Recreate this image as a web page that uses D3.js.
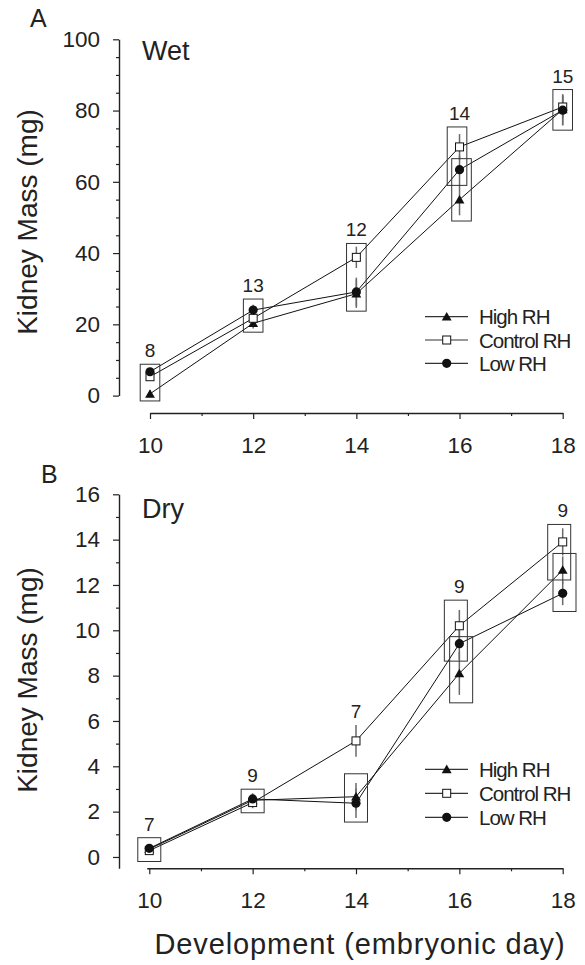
<!DOCTYPE html>
<html>
<head>
<meta charset="utf-8">
<script src="https://cdn.jsdelivr.net/npm/d3@7"></script>
<style>
  body { margin: 0; background: #fff; }
  svg { display: block; font-family: "Liberation Sans", Arial, sans-serif; }
</style>
</head>
<body>
<div id="main"></div>
<script>
// data
const days = [10, 12, 14, 16, 18];
const seriesNames = ["High RH", "Control RH", "Low RH"];

const wetHigh = [0.5, 20.3, 28.6, 55.0, 80.3];
const wetControl = [5.3, 21.7, 38.8, 69.8, 81.0];
const wetLow = [6.7, 24.0, 29.1, 63.4, 80.1];
const wetHighErr = [1.0, 1.5, 4.0, 4.4, 4.3];
const wetControlErr = [1.0, 1.5, 3.0, 3.6, 3.0];
const wetLowErr = [1.0, 1.5, 4.0, 4.0, 4.3];
const wetN = [8, 13, 12, 14, 15];
const wetBoxes = [
  { day: 10, lo: -1.5, hi: 8.8, lane: 0 },
  { day: 12, lo: 17.8, hi: 27.1, lane: 0 },
  { day: 14, lo: 23.7, hi: 42.7, lane: 0 },
  { day: 16, lo: 59.0, hi: 75.4, lane: -1 },
  { day: 16, lo: 49.0, hi: 66.5, lane: 1 },
  { day: 18, lo: 74.5, hi: 85.9, lane: 0 }
];
const wetTicks = [0, 20, 40, 60, 80, 100];

const dryHigh = [0.35, 2.5, 2.66, 8.1, 12.66];
const dryControl = [0.28, 2.4, 5.12, 10.2, 13.9];
const dryLow = [0.38, 2.56, 2.37, 9.41, 11.63];
const dryHighErr = [0.1, 0.25, 0.6, 0.95, 0.6];
const dryControlErr = [0.1, 0.25, 0.7, 0.7, 0.6];
const dryLowErr = [0.1, 0.25, 0.65, 0.7, 0.52];
const dryN = [7, 9, 7, 9, 9];
const dryBoxes = [
  { day: 10, lo: -0.2, hi: 0.85, lane: 0 },
  { day: 12, lo: 1.95, hi: 2.99, lane: 0 },
  { day: 14, lo: 1.54, hi: 3.67, lane: 0 },
  { day: 16, lo: 8.64, hi: 11.33, lane: -1 },
  { day: 16, lo: 6.8, hi: 9.72, lane: 1 },
  { day: 18, lo: 12.22, hi: 14.67, lane: -1 },
  { day: 18, lo: 10.83, hi: 13.39, lane: 1 }
];
const dryTicks = [0, 2, 4, 6, 8, 10, 12, 14, 16];

const xTicks = [10, 12, 14, 16, 18];
const xMinor = [11, 13, 15, 17];

const svg = d3.select("#main")
              .append("svg")
              .attr("width", 585)
              .attr("height", 965);

const ink = "#222";
const errColor = "#6a6a6a";

function drawMarker(g, type, x, y) {
  if (type === 0) {
    g.append("path")
     .attr("d", d3.symbol().type(d3.symbolTriangle).size(42)())
     .attr("transform", "translate(" + x + "," + (y + 1) + ")")
     .attr("fill", "#111");
  } else if (type === 1) {
    g.append("rect")
     .attr("x", x - 4).attr("y", y - 4)
     .attr("width", 8).attr("height", 8)
     .attr("fill", "#fff").attr("stroke", "#111").attr("stroke-width", 1);
  } else {
    g.append("circle")
     .attr("cx", x).attr("cy", y).attr("r", 4.6)
     .attr("fill", "#111");
  }
}

function drawPanel(p) {
  const g = svg.append("g");

  const x = d3.scaleLinear().domain(p.xDomain).range(p.xRange);
  const y = d3.scaleLinear().domain(p.yDomain).range(p.yRange);

  // y axis, major and minor
  g.append("g")
   .attr("transform", "translate(" + p.yAxisX + ",0)")
   .call(d3.axisLeft(y).tickValues(p.yTicks).tickSize(6).tickSizeOuter(0).tickPadding(13));
  g.append("g")
   .attr("transform", "translate(" + p.yAxisX + ",0)")
   .call(d3.axisLeft(y).tickValues(p.yMinor).tickSize(3).tickFormat(""))
   .select(".domain").remove();

  g.append("g")
   .attr("transform", "translate(0," + p.xAxisY + ")")
   .call(d3.axisBottom(x).tickValues(xTicks).tickSize(6).tickSizeOuter(0).tickPadding(18));
  g.append("g")
   .attr("transform", "translate(0," + p.xAxisY + ")")
   .call(d3.axisBottom(x).tickValues(xMinor).tickSize(3).tickFormat(""))
   .select(".domain").remove();

  g.selectAll(".domain").attr("stroke", ink).attr("stroke-width", 1.4);
  g.selectAll(".tick line").attr("stroke", ink).attr("stroke-width", 1.2);
  g.selectAll(".tick text")
   .attr("font-size", 22.5)
   .attr("font-family", "Liberation Sans, Arial, sans-serif")
   .attr("fill", "#222");

  // error bars
  p.series.forEach(function(s) {
    s.values.forEach(function(v, i) {
      g.append("line")
       .attr("x1", x(days[i])).attr("x2", x(days[i]))
       .attr("y1", y(v - s.err[i])).attr("y2", y(v + s.err[i]))
       .attr("stroke", errColor).attr("stroke-width", 1.5);
    });
  });

  // connecting lines
  const line = d3.line()
                 .x(function(d) { return x(d[0]); })
                 .y(function(d) { return y(d[1]); });
  p.series.forEach(function(s) {
    g.append("path")
     .datum(days.map(function(d, i) { return [d, s.values[i]]; }))
     .attr("d", line)
     .attr("fill", "none")
     .attr("stroke", "#111")
     .attr("stroke-width", 1);
  });

  // grouping boxes
  g.selectAll(".box")
   .data(p.boxes)
   .enter()
   .append("rect")
   .attr("class", "box")
   .attr("x", function(d) { return x(d.day) - p.boxWidth / 2 + p.laneShift[d.lane + 1]; })
   .attr("y", function(d) { return y(d.hi); })
   .attr("width", p.boxWidth)
   .attr("height", function(d) { return y(d.lo) - y(d.hi); })
   .attr("fill", "none")
   .attr("stroke", "#333")
   .attr("stroke-width", 1);

  // markers
  p.series.forEach(function(s, k) {
    s.values.forEach(function(v, i) {
      drawMarker(g, k, x(days[i]), y(v));
    });
  });

  // sample sizes above each day
  days.forEach(function(d, i) {
    let top = -Infinity;
    p.boxes.forEach(function(b) { if (b.day === d) top = Math.max(top, b.hi); });
    p.series.forEach(function(s) { top = Math.max(top, s.values[i] + s.err[i]); });
    g.append("text")
     .attr("x", x(d))
     .attr("y", y(top) - 7)
     .attr("text-anchor", "middle")
     .attr("font-size", 19)
     .attr("fill", "#222")
     .text(p.n[i]);
  });

  // legend
  p.series.forEach(function(s, k) {
    const ly = p.legendY + k * p.legendStep;
    g.append("line")
     .attr("x1", 425).attr("x2", 468)
     .attr("y1", ly).attr("y2", ly)
     .attr("stroke", "#333").attr("stroke-width", 1.2);
    drawMarker(g, k, 446.7, ly);
    g.append("text")
     .attr("x", 479)
     .attr("y", ly + 7.5)
     .attr("font-size", 20.5)
     .attr("letter-spacing", -1)
     .attr("fill", "#222")
     .text(seriesNames[k]);
  });

  g.append("text")
   .attr("x", p.letterX).attr("y", p.letterY)
   .attr("font-size", 25).attr("fill", "#222")
   .text(p.letter);

  g.append("text")
   .attr("x", 142).attr("y", p.titleY)
   .attr("font-size", 27).attr("fill", "#222")
   .text(p.title);

  g.append("text")
   .attr("transform", "translate(37," + p.yTitleMid + ") rotate(-90)")
   .attr("text-anchor", "middle")
   .attr("font-size", 28)
   .attr("fill", "#222")
   .text("Kidney Mass (mg)");
}

drawPanel({
  xDomain: [10, 18], xRange: [150, 562.7],
  yDomain: [0, 100], yRange: [395.6, 39.3],
  yAxisX: 119, xAxisY: 413,
  yTicks: wetTicks, yMinor: d3.range(5, 100, 5).filter(function(v) { return v % 20 !== 0; }),
  series: [
    { values: wetHigh, err: wetHighErr },
    { values: wetControl, err: wetControlErr },
    { values: wetLow, err: wetLowErr }
  ],
  boxes: wetBoxes, boxWidth: 19.6, laneShift: [-2.5, 0, 2],
  n: wetN,
  legendY: 316.7, legendStep: 23.3,
  letter: "A", letterX: 30, letterY: 27,
  title: "Wet", titleY: 60,
  yTitleMid: 222
});

drawPanel({
  xDomain: [9.95, 18], xRange: [146.7, 562.7],
  yDomain: [-0.5, 16], yRange: [868.3, 494.3],
  yAxisX: 119, xAxisY: 868.3,
  yTicks: dryTicks, yMinor: [1, 3, 5, 7, 9, 11, 13, 15],
  series: [
    { values: dryHigh, err: dryHighErr },
    { values: dryControl, err: dryControlErr },
    { values: dryLow, err: dryLowErr }
  ],
  boxes: dryBoxes, boxWidth: 23, laneShift: [-3.5, 0, 1.8],
  n: dryN,
  legendY: 769.3, legendStep: 24,
  letter: "B", letterX: 41, letterY: 483,
  title: "Dry", titleY: 518,
  yTitleMid: 680
});

svg.append("text")
   .attr("x", 360)
   .attr("y", 954)
   .attr("text-anchor", "middle")
   .attr("font-size", 29)
   .attr("letter-spacing", 0.9)
   .attr("fill", "#222")
   .text("Development (embryonic day)");
</script>
</body>
</html>
